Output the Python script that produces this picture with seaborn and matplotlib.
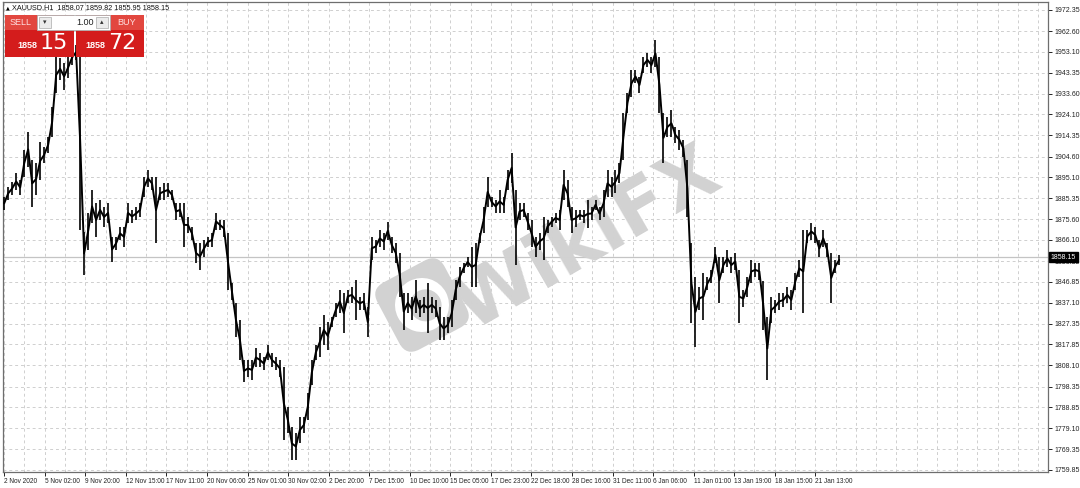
import matplotlib
matplotlib.use("Agg")
import matplotlib.pyplot as plt
import matplotlib.patches as mpatches
import matplotlib.transforms as mtransforms
import numpy as np
import pandas as pd
import seaborn as sns

# XAUUSD H1 - low / high of the bars, every ~4 px
lows = [
    1880.0, 1884.6, 1886.9, 1889.2, 1886.9, 1895.2, 1899.8, 1881.3, 1886.9, 1893.8,
    1901.7, 1906.3, 1913.7, 1934.0, 1940.0, 1935.4, 1940.9, 1946.9, 1949.3, 1870.7,
    1849.9, 1861.5, 1873.9, 1867.5, 1875.3, 1872.1, 1873.9, 1855.9, 1861.5, 1866.1,
    1862.9, 1873.9, 1873.9, 1875.3, 1876.7, 1886.0, 1890.6, 1889.2, 1864.7, 1884.6,
    1884.6, 1886.0, 1884.6, 1875.3, 1876.7, 1862.9, 1869.3, 1866.1, 1855.5, 1852.2,
    1858.2, 1862.9, 1862.9, 1870.7, 1870.7, 1867.5, 1843.0, 1838.4, 1821.3, 1810.7,
    1800.5, 1802.8, 1801.4, 1807.4, 1807.4, 1806.0, 1810.7, 1807.4, 1806.0, 1802.8,
    1773.7, 1776.9, 1764.5, 1764.5, 1772.3, 1776.9, 1782.9, 1799.1, 1810.7, 1812.0,
    1817.6, 1815.3, 1825.9, 1830.5, 1832.4, 1823.1, 1837.0, 1837.0, 1829.1, 1833.8,
    1833.8, 1821.3, 1856.9, 1860.1, 1862.9, 1861.5, 1866.1, 1860.1, 1855.5, 1839.8,
    1824.5, 1832.4, 1829.1, 1832.4, 1830.5, 1832.4, 1823.1, 1832.4, 1830.5, 1819.9,
    1819.9, 1823.1, 1825.9, 1838.4, 1844.4, 1850.8, 1853.6, 1844.4, 1844.4, 1864.7,
    1869.3, 1881.3, 1881.3, 1878.6, 1878.6, 1878.6, 1889.2, 1892.4, 1854.5, 1875.3,
    1876.7, 1870.7, 1862.9, 1858.2, 1861.5, 1856.9, 1869.3, 1872.1, 1873.9, 1870.7,
    1884.6, 1881.3, 1869.3, 1872.1, 1875.3, 1873.9, 1871.6, 1875.3, 1880.0, 1875.3,
    1876.7, 1886.0, 1886.0, 1887.8, 1892.4, 1903.1, 1924.8, 1932.2, 1938.6, 1934.0,
    1943.2, 1946.0, 1943.2, 1946.0, 1924.8, 1901.7, 1913.7, 1913.7, 1910.9, 1907.7,
    1904.4, 1876.7, 1827.7, 1816.7, 1833.8, 1829.1, 1843.0, 1846.2, 1855.5, 1837.0,
    1850.8, 1853.6, 1850.8, 1852.2, 1827.7, 1835.1, 1839.8, 1846.2, 1849.0, 1847.6,
    1824.5, 1801.4, 1827.7, 1832.4, 1833.8, 1835.1, 1837.0, 1833.8, 1843.0, 1849.0,
    1832.4, 1864.7, 1866.1, 1864.7, 1858.2, 1862.9, 1858.2, 1837.0, 1850.8, 1854.5,
]
highs = [
    1886.0, 1890.6, 1892.9, 1897.0, 1893.8, 1907.7, 1916.0, 1903.1, 1901.7, 1911.4,
    1909.1, 1913.7, 1927.5, 1950.6, 1950.2, 1947.9, 1950.6, 1953.9, 1956.2, 1953.9,
    1869.8, 1878.6, 1889.2, 1883.2, 1884.6, 1881.3, 1883.2, 1867.5, 1867.5, 1872.1,
    1872.1, 1883.2, 1880.0, 1881.3, 1883.2, 1895.2, 1898.4, 1895.2, 1895.2, 1890.6,
    1892.4, 1892.4, 1889.2, 1883.2, 1883.2, 1883.2, 1876.7, 1872.1, 1864.7, 1864.7,
    1866.1, 1867.5, 1869.3, 1878.6, 1875.3, 1875.3, 1869.3, 1846.2, 1837.0, 1829.1,
    1810.7, 1810.7, 1810.7, 1816.2, 1813.9, 1812.0, 1817.6, 1813.9, 1812.0, 1810.7,
    1807.4, 1788.9, 1779.7, 1776.9, 1784.3, 1784.3, 1795.4, 1810.7, 1817.6, 1825.9,
    1831.4, 1828.2, 1830.5, 1837.0, 1843.0, 1841.6, 1843.0, 1844.4, 1847.6, 1839.8,
    1841.6, 1835.1, 1867.5, 1866.1, 1870.7, 1869.3, 1874.4, 1867.5, 1864.7, 1860.1,
    1841.6, 1841.6, 1839.8, 1847.6, 1838.4, 1839.8, 1846.2, 1839.8, 1838.4, 1835.1,
    1830.5, 1830.5, 1838.4, 1847.6, 1853.6, 1855.5, 1858.2, 1862.9, 1864.7, 1869.3,
    1881.3, 1895.2, 1886.0, 1884.6, 1889.2, 1886.0, 1898.4, 1906.3, 1889.2, 1883.2,
    1883.2, 1878.6, 1875.3, 1867.5, 1869.3, 1876.7, 1875.3, 1876.7, 1878.6, 1880.0,
    1898.4, 1893.8, 1881.3, 1880.0, 1880.0, 1880.0, 1884.6, 1881.3, 1884.6, 1881.3,
    1889.2, 1898.4, 1895.2, 1898.4, 1901.7, 1924.8, 1934.0, 1944.6, 1944.6, 1941.4,
    1950.6, 1952.5, 1950.6, 1958.5, 1950.6, 1924.8, 1922.9, 1926.2, 1918.3, 1916.9,
    1912.3, 1903.1, 1864.7, 1849.0, 1844.4, 1850.8, 1849.0, 1852.2, 1862.9, 1858.2,
    1858.2, 1861.5, 1858.2, 1860.1, 1852.0, 1843.0, 1849.0, 1856.9, 1855.5, 1855.5,
    1847.0, 1830.5, 1839.8, 1838.4, 1841.6, 1841.6, 1844.4, 1843.0, 1850.8, 1856.9,
    1870.7, 1870.7, 1873.9, 1872.1, 1866.1, 1870.7, 1864.7, 1860.1, 1856.9, 1859.2,
]

date_labels = ["2 Nov 2020", "5 Nov 02:00", "9 Nov 20:00", "12 Nov 15:00", "17 Nov 11:00",
               "20 Nov 06:00", "25 Nov 01:00", "30 Nov 02:00", "2 Dec 20:00", "7 Dec 15:00",
               "10 Dec 10:00", "15 Dec 05:00", "17 Dec 23:00", "22 Dec 18:00", "28 Dec 16:00",
               "31 Dec 11:00", "6 Jan 06:00", "11 Jan 01:00", "13 Jan 19:00", "18 Jan 15:00",
               "21 Jan 13:00"]
price_ticks = [1759.85, 1769.35, 1779.10, 1788.85, 1798.35, 1808.10, 1817.85, 1827.35,
               1837.10, 1846.85, 1856.35, 1866.10, 1875.60, 1885.35, 1895.10, 1904.60,
               1914.35, 1924.10, 1933.60, 1943.35, 1953.10, 1962.60, 1972.35]
last_price = 1858.15
header = "XAUUSD,H1  1858.07 1859.82 1855.95 1858.15"
lot_size = "1.00"
sell_quote = ("1858", "15")
buy_quote = ("1858", "72")

df = pd.DataFrame({"bar": np.arange(len(lows)), "low": lows, "high": highs})
df["mid"] = (df["low"] + df["high"]) / 2

sns.set_style("white")
plt.rcParams["font.family"] = ["Liberation Sans", "DejaVu Sans"]

W, H = 1080, 488
fig = plt.figure(figsize=(W / 100, H / 100), dpi=100)
ax = fig.add_axes([3 / W, 16 / H, 1045 / W, 470 / H])

label_step = 10.15  # bars between date labels

# price bars
ax.vlines(df["bar"], df["low"], df["high"], color="black", lw=1.2, zorder=4)
sns.lineplot(data=df, x="bar", y="mid", color="black", lw=1.4, ax=ax, zorder=4)

ax.axhline(last_price, color="#c4c4c4", lw=0.9, zorder=2)

ax.set_xlim(-0.3, 261.25)
ax.set_ylim(1758.9, 1976.0)

ax.yaxis.tick_right()
ax.set_yticks(price_ticks)
ax.set_yticklabels([f"{v:.2f}" for v in price_ticks])
ax.set_xticks(np.arange(len(date_labels)) * label_step)
ax.set_xticklabels(date_labels, ha="left")
ax.set_xticks(np.arange(0, 262, label_step / 2), minor=True)
ax.set_xlabel("")
ax.set_ylabel("")

grid_kw = dict(color="#cfcfcf", lw=0.7, ls=(0, (3, 3)))
ax.grid(True, which="both", axis="x", **grid_kw)
ax.grid(True, which="major", axis="y", **grid_kw)
ax.set_axisbelow(True)
ax.tick_params(axis="x", which="minor", length=0)
ax.tick_params(axis="x", which="major", length=3, width=0.7, labelsize=4.7,
               pad=1.5, colors="#222222", bottom=True)
ax.tick_params(axis="y", length=3, width=0.7, labelsize=5.0, pad=1.5, colors="#222222", right=True)
for s in ax.spines.values():
    s.set_color("#6e6e6e")
    s.set_linewidth(0.9)

ax.text(1.0025, last_price, f"{last_price:.2f}", transform=ax.get_yaxis_transform(),
        fontsize=5.0, color="white", va="center", ha="left", zorder=10, clip_on=False,
        bbox=dict(boxstyle="square,pad=0.25", fc="black", ec="black"))

# watermark
px = fig.dpi_scale_trans
cx, cy = 4.22, (H - 305) / 100
rot = mtransforms.Affine2D().rotate_deg_around(cx, cy, 28) + px
ax.add_patch(mpatches.FancyBboxPatch((cx - 0.38, cy - 0.38), 0.76, 0.76,
                                     boxstyle="round,pad=0,rounding_size=0.15",
                                     fc="#d2d2d2", ec="none", transform=rot, zorder=3))
ax.add_patch(mpatches.Circle((cx, cy), 0.27, fc="white", ec="none", transform=rot, zorder=3))
ax.add_patch(mpatches.Circle((cx + 0.03, cy - 0.02), 0.16, fc="#d2d2d2", ec="none",
                             transform=rot, zorder=3))
ax.text(588 / W, 1 - 240 / H, "WikiFX", transform=fig.transFigure, rotation=30,
        ha="center", va="center", fontsize=54, fontweight="bold", color="#d2d2d2", zorder=3,
        family="DejaVu Sans")

# header line
fig.text(6 / W, 1 - 8 / H, "\u25b2", fontsize=3.5, color="black", va="center", family="DejaVu Sans")
fig.text(12 / W, 1 - 8 / H, header, fontsize=5.2, color="#111111", va="center")


# one click trading panel
def box(x, y, w, h, fc, ec="none"):
    fig.add_artist(mpatches.Rectangle((x / W, 1 - (y + h) / H), w / W, h / H, fc=fc, ec=ec,
                                      lw=0.6, transform=fig.transFigure, zorder=20))


def label(x, y, s, **kw):
    fig.text(x / W, 1 - y / H, s, va="center", zorder=21, **kw)


box(5, 15, 69, 42, "#d41c1c")
box(76, 15, 68, 42, "#d41c1c")
box(5, 15, 32, 15, "#e2473f")
box(110, 15, 34, 15, "#e2473f")
box(37, 15, 73, 15, "white", ec="#b0b0b0")
box(39, 17, 12, 11, "#ececec", ec="#b8b8b8")
box(96, 17, 12, 11, "#ececec", ec="#b8b8b8")
label(45, 22.5, "\u25be", fontsize=5, ha="center", color="#333333", family="DejaVu Sans")
label(102, 22, "\u25b4", fontsize=5, ha="center", color="#333333", family="DejaVu Sans")
label(94, 22.5, lot_size, fontsize=6.5, ha="right", color="#222222")
label(21, 22.5, "SELL", fontsize=6.5, ha="center", color="#ffe0e0")
label(127, 22.5, "BUY", fontsize=6.5, ha="center", color="#ffe0e0")
label(37, 46, sell_quote[0], fontsize=6.5, ha="right", color="white", fontweight="bold")
label(40, 43, sell_quote[1], fontsize=16, ha="left", color="white", family="DejaVu Sans")
label(105, 46, buy_quote[0], fontsize=6.5, ha="right", color="white", fontweight="bold")
label(108, 43, buy_quote[1], fontsize=16, ha="left", color="white", family="DejaVu Sans")

fig.savefig("out.png", dpi=100)
